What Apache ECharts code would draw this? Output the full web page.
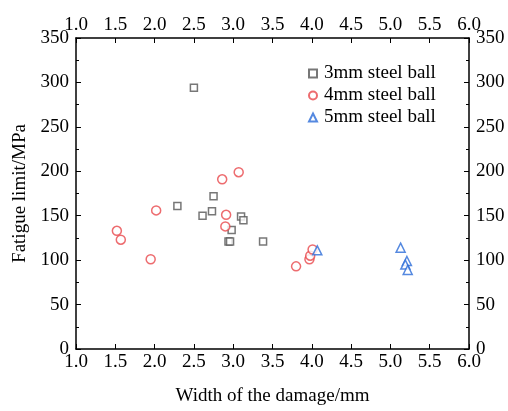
<!DOCTYPE html>
<html><head><meta charset="utf-8">
<script src="https://cdn.jsdelivr.net/npm/echarts@6/dist/echarts.min.js"></script>
<style>html,body{margin:0;padding:0;background:#fff}#c{width:508px;height:411px}</style>
</head><body><div id="c"></div>
<script>
var seriesNames = ['3mm steel ball', '4mm steel ball', '5mm steel ball'];
var ball3X = [2.50, 2.29, 2.61, 2.73, 2.75, 3.10, 3.13, 2.98, 2.94, 2.96, 3.38];
var ball3Y = [294, 161, 150, 155, 172, 149, 145, 134, 121, 121, 121];
var ball4X = [1.52, 1.57, 1.95, 2.02, 2.86, 3.07, 2.91, 2.90, 3.80, 3.97, 3.98, 4.01];
var ball4Y = [133, 123, 101, 156, 191, 199, 151, 138, 93, 101, 105, 112];
var ball5X = [4.07, 5.13, 5.21, 5.19, 5.22];
var ball5Y = [111, 114, 99, 95, 89];
var xTicks = ['1.0','1.5','2.0','2.5','3.0','3.5','4.0','4.5','5.0','5.5','6.0'];
var yTicks = [0,50,100,150,200,250,300,350];

function pairs(xs, ys){ return xs.map(function(x,i){ return [x, ys[i]]; }); }
var font = 'Liberation Serif';
var axisCommon = {
  axisLine:{show:true, onZero:false, lineStyle:{color:'#000', width:1.5}},
  axisTick:{show:true, inside:true, length:5, lineStyle:{color:'#000', width:1}},
  splitLine:{show:false},
  axisLabel:{color:'#000', fontFamily:font, fontSize:19}
};
function xa(pos){
  return Object.assign({}, JSON.parse(JSON.stringify(axisCommon)), {
    type:'value', position:pos, min:1, max:6, interval:0.5,
    axisLabel:Object.assign({}, axisCommon.axisLabel, {margin: pos==='bottom'?4:3,
      formatter:function(v){ var i=Math.round((v-1)/0.5); return xTicks[i]; }})
  });
}
function ya(pos){
  return Object.assign({}, JSON.parse(JSON.stringify(axisCommon)), {
    type:'value', position:pos, min:0, max:350, interval:50,
    minorTick:{show:true, splitNumber:2, length:3, lineStyle:{color:'#000'}},
    axisLabel:Object.assign({}, axisCommon.axisLabel, {margin:7,
      formatter:function(v){ return String(yTicks[Math.round(v/50)]); }})
  });
}
var xBottom = xa('bottom');
xBottom.name = 'Width of the damage/mm';
xBottom.nameLocation = 'middle';
xBottom.nameGap = 38;
xBottom.nameTextStyle = {color:'#000', fontFamily:font, fontSize:19};
var yLeft = ya('left');
yLeft.name = 'Fatigue limit/MPa';
yLeft.nameLocation = 'middle';
yLeft.nameGap = 46;
yLeft.nameTextStyle = {color:'#000', fontFamily:font, fontSize:19};

var chart = echarts.init(document.getElementById('c'), null, {renderer:'canvas'});
chart.setOption({
  animation:false,
  backgroundColor:'#fff',
  grid:{left:76, right:39, top:38, bottom:59, containLabel:false},
  xAxis:[xBottom, xa('top')],
  yAxis:[yLeft, ya('right')],
  legend:{
    orient:'vertical', left:303, top:59, itemGap:3, itemWidth:8, itemHeight:8,
    textStyle:{color:'#000', fontFamily:font, fontSize:19, padding:[0,0,0,2]},
    data:seriesNames
  },
  series:[
    {name:seriesNames[0], type:'scatter', symbol:'rect', symbolSize:7,
     itemStyle:{color:'#fff', borderColor:'#555', borderWidth:1.5}, data:pairs(ball3X, ball3Y)},
    {name:seriesNames[1], type:'scatter', symbol:'circle', symbolSize:9,
     itemStyle:{color:'#fff', borderColor:'#e8474b', borderWidth:1.5}, data:pairs(ball4X, ball4Y)},
    {name:seriesNames[2], type:'scatter', symbol:'triangle', symbolSize:9,
     itemStyle:{color:'#fff', borderColor:'#2a6bd8', borderWidth:1.5}, data:pairs(ball5X, ball5Y)}
  ]
});
</script></body></html>
